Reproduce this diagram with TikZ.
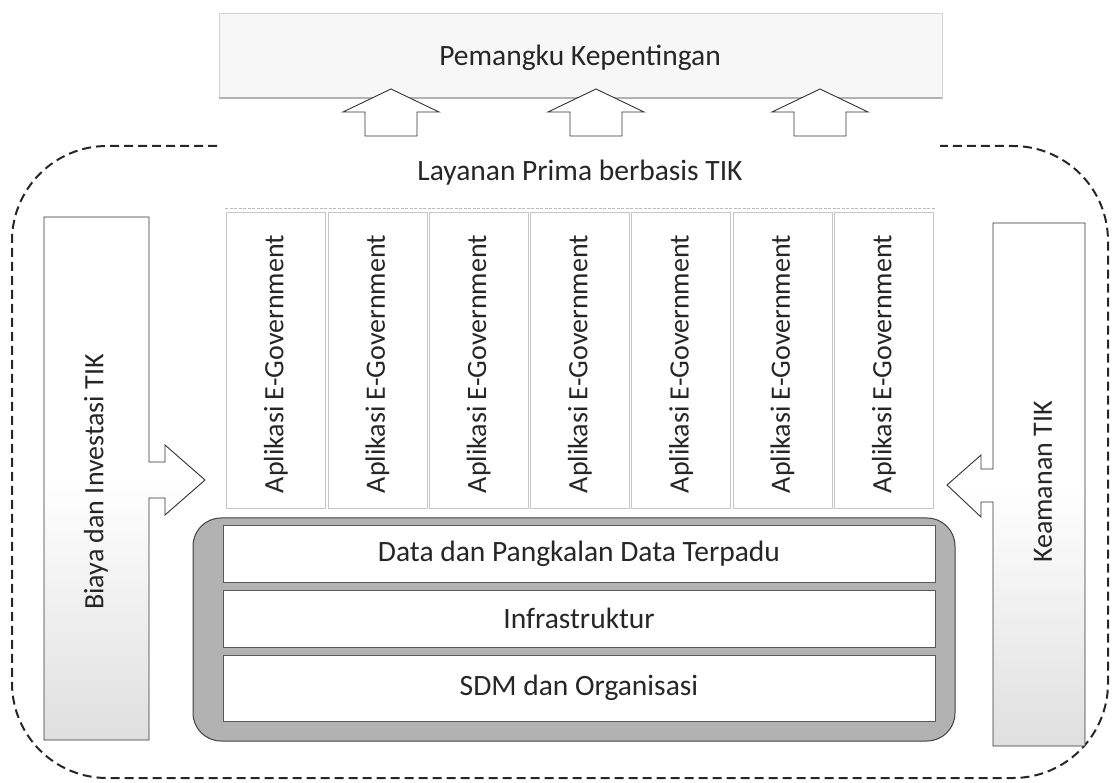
\documentclass[tikz,border=0pt]{standalone}
\usepackage{fontspec}
\setmainfont{Carlito}
\begin{document}
\begin{tikzpicture}[x=1pt,y=-1pt,
  lbl/.style={font=\fontsize{29.5}{31}\selectfont, text=black!85, inner sep=0pt},
  vlbl/.style={lbl, font=\fontsize{28}{30}\selectfont, rotate=90},
  appcol/.style={draw=gray!45, line width=0.6pt},
  layer/.style={fill=white, draw=gray!70!black, line width=0.6pt, inner sep=0pt,
                font=\fontsize{29.5}{31}\selectfont, text=black!85},
  blockarrow/.style={draw=black!80, line width=0.9pt, fill=white, line join=miter},
  sidebox/.style={draw=black!80, line width=0.9pt, line join=miter,
                  top color=white, bottom color=gray!25, middle color=white},
  frame/.style={draw=black!85, line width=2pt, dash pattern=on 9pt off 5pt},
]
\useasboundingbox (0,0) rectangle (1120,783);

% stakeholders
\draw[fill=gray!6, draw=gray!35, line width=0.6pt] (219,13) rectangle (942,98);
\draw[gray!60, line width=1.2pt] (219,98) -- (942,98);
\node[lbl] (pk) at (580,58) {Pemangku Kepentingan};

% outer dashed frame, open at the top behind the service layer
\draw[frame, rounded corners=95pt]
  (217,146) -- (12,146) -- (12,778) -- (1108,778) -- (1108,146) -- (940,146);

% service layer
\node[lbl] (lp) at (580,173) {Layanan Prima berbasis TIK};
\draw[gray!55, line width=0.8pt, dash pattern=on 3pt off 1.5pt] (225,208) -- (935,208);

% arrows from the service layer up to the stakeholders
\foreach \cx in {391,596,820}
  \draw[blockarrow] (\cx-26,136) -- (\cx-26,112) -- (\cx-48,112) -- (\cx,89)
        -- (\cx+48,112) -- (\cx+26,112) -- (\cx+26,136) -- cycle;

% application columns
\foreach \i in {0,...,6} {
  \pgfmathsetmacro\cx{276+101.3*\i}
  \draw[appcol] (\cx-49.5,212) rectangle (\cx+49.5,508);
  \node[vlbl] (app\i) at (\cx,364) {Aplikasi E-Government};
}

% foundation stack
\draw[fill=gray!60, draw=black!75, line width=1pt, rounded corners=28pt]
  (193,518) rectangle (955,741);
\node[layer, minimum width=712pt, minimum height=57pt] (data) at (579,553.5)
  {Data dan Pangkalan Data Terpadu};
\node[layer, minimum width=712pt, minimum height=57pt] (infra) at (579,618.5)
  {Infrastruktur};
\node[layer, minimum width=712pt, minimum height=66pt] (sdm) at (579,688)
  {SDM dan Organisasi};

% cost and investment, with its arrow into the applications
\draw[sidebox] (44,217) -- (149,217) -- (149,462) -- (165,462) -- (165,445)
  -- (205,480) -- (165,515) -- (165,498) -- (149,498) -- (149,740) -- (44,740) -- cycle;
\node[vlbl] (biaya) at (96,482) {Biaya dan Investasi TIK};

% security, with its arrow into the applications
\draw[sidebox] (993,223) -- (1085,223) -- (1085,746) -- (993,746) -- (993,502)
  -- (981,502) -- (981,517) -- (947,485) -- (981,455) -- (981,469) -- (993,469) -- cycle;
\node[vlbl] (aman) at (1043,482) {Keamanan TIK};
\end{tikzpicture}
\end{document}
